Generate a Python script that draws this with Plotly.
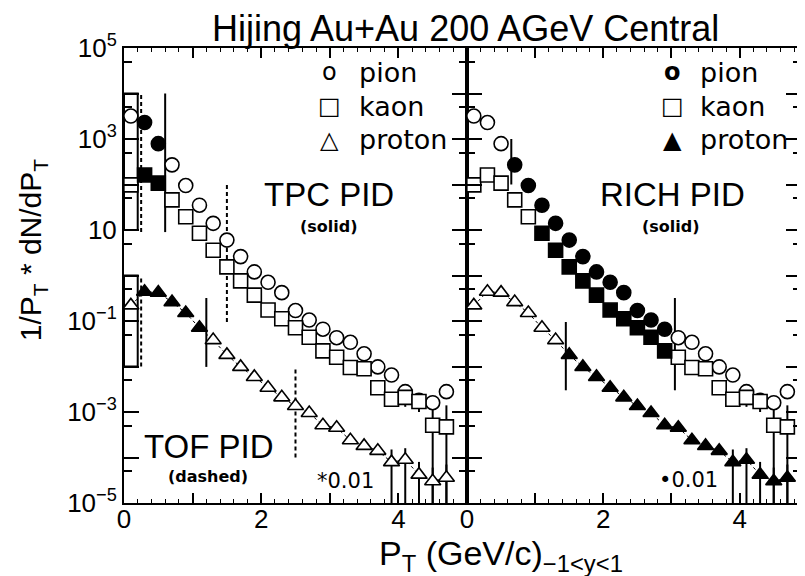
"""
Hijing Au+Au 200 AGeV central: identified particle pT spectra,
TPC/TOF PID coverage (left) and RICH PID coverage (right).
"""
import plotly.graph_objects as go
from plotly.subplots import make_subplots

# ---- data ----
pt = [0.1, 0.3, 0.5, 0.7, 0.9, 1.1, 1.3, 1.5, 1.7, 1.9, 2.1, 2.3,
      2.5, 2.7, 2.9, 3.1, 3.3, 3.5, 3.7, 3.9, 4.1, 4.3, 4.5, 4.7]

pion = [3.2e3, 2.3e3, 7.9e2, 2.7e2, 95, 35, 14, 6.0, 2.6, 1.2, 0.71, 0.42,
        0.17, 0.105, 0.066, 0.043, 0.034, 0.019, 0.0098, 0.0065, 0.0028, 0.0018,
        0.0016, 0.0028]

kaon = [98, 162, 107, 46, 19.5, 8.5, 3.6, 1.55, 0.76, 0.37, 0.174, 0.112,
        0.071, 0.044, 0.022, 0.016, 0.0095, 0.0089, 0.0034, 0.0019, 0.0021, 0.0017,
        5.1e-4, 4.7e-4]

# proton spectrum is scaled by 0.01
proton = [0.22, 0.44, 0.42, 0.26, 0.15, 0.071, 0.038, 0.018, 0.0098, 0.0059, 0.0034, 0.0021,
          0.00135, 9.5e-4, 5.1e-4, 4.5e-4, 2.4e-4, 1.8e-4, 1.4e-4, 7.9e-5, 8.9e-5, 4.2e-5,
          3.0e-5, 3.6e-5]

# statistical error bars at high pT (lower / upper ends)
err_pt = [3.9, 4.1, 4.3, 4.5, 4.7]
kaon_lo = [1.3e-3, 1.3e-3, 1.0e-3, 1e-7, 1e-7]
kaon_hi = [2.6e-3, 2.8e-3, 2.4e-3, 1.5e-3, 1.4e-3]
proton_lo = [1e-7, 1e-7, 1e-7, 1e-7, 1e-7]
proton_hi = [1.5e-4, 1.6e-4, 8e-5, 6e-5, 7e-5]

# pT windows where each detector identifies the particle (filled symbols)
tpc_pik = (0.2, 0.6)
tpc_p = (0.2, 1.2)
rich_pi = (0.6, 3.0)
rich_k = (1.0, 3.0)
rich_p = (1.4, 5.0)

# PID limit markers: (pT, y_low, y_high)
tpc_limits = [(0.6, 9, 1e4), (1.2, 0.0098, 0.32)]
tof_limits = [(0.25, 9, 1e4), (0.25, 0.01, 1.0), (1.5, 0.095, 100), (2.5, 1e-4, 0.0093)]
rich_limits = [(0.65, 100, 1e3), (1.45, 0.003, 0.095), (3.05, 0.003, 0.32)]

# first-bin boxes (pT_lo, pT_hi, y_lo, y_hi)
boxes = [(0.0, 0.2, 10, 1e4), (0.0, 0.2, 0.01, 1.0)]

FONT = "Liberation Sans, Arial, sans-serif"
WIDE = "DejaVu Sans, Verdana, sans-serif"
OFF = 8                      # page body margin
W, H = 805 - OFF, 576 - OFF
L, R, T, B = 116, 2, 40, 73
PW, PH = W - L - R, H - T - B
x_split = (468 - OFF - L) / PW


def px(xpix):
    return (xpix - OFF - L) / PW


def py(ypix):
    return (H - B - (ypix - OFF)) / PH


fig = make_subplots(rows=1, cols=2, shared_yaxes=True, horizontal_spacing=0)


def add_species(col, y, symbol, window):
    inside = [window[0] < x < window[1] for x in pt]
    xin = [x for x, k in zip(pt, inside) if k]
    yin = [v for v, k in zip(y, inside) if k]
    xout = [x for x, k in zip(pt, inside) if not k]
    yout = [v for v, k in zip(y, inside) if not k]
    fig.add_trace(go.Scatter(x=xout, y=yout, mode="markers",
                             marker=dict(symbol=symbol, size=14, color="white",
                                         line=dict(color="black", width=1.6))),
                  row=1, col=col)
    fig.add_trace(go.Scatter(x=xin, y=yin, mode="markers",
                             marker=dict(symbol=symbol, size=14, color="black",
                                         line=dict(color="black", width=1.6))),
                  row=1, col=col)


def add_segments(col, segs, dash):
    xs, ys = [], []
    for x, lo, hi in segs:
        xs += [x, x, None]
        ys += [lo, hi, None]
    fig.add_trace(go.Scatter(x=xs, y=ys, mode="lines",
                             line=dict(color="black", width=2, dash=dash)),
                  row=1, col=col)


for col in (1, 2):
    # error bars
    segs = [(x, lo, hi) for x, lo, hi in zip(err_pt, kaon_lo, kaon_hi)]
    segs += [(x, lo, hi) for x, lo, hi in zip(err_pt, proton_lo, proton_hi)]
    add_segments(col, segs, "solid")
    # dotted guide through protons
    fig.add_trace(go.Scatter(x=pt, y=proton, mode="lines",
                             line=dict(color="black", width=1, dash="dot")),
                  row=1, col=col)

# first-bin boxes and PID limits in the left panel
bx, by = [], []
for x0, x1, y0, y1 in boxes:
    bx += [x0, x1, x1, x0, x0, None]
    by += [y0, y0, y1, y1, y0, None]
fig.add_trace(go.Scatter(x=bx, y=by, mode="lines", line=dict(color="black", width=2)),
              row=1, col=1)
add_segments(1, tpc_limits, "solid")
add_segments(1, tof_limits, "4px,3px")
add_segments(2, rich_limits, "solid")

add_species(1, pion, "circle", tpc_pik)
add_species(1, kaon, "square", tpc_pik)
add_species(1, proton, "triangle-up", tpc_p)
add_species(2, pion, "circle", rich_pi)
add_species(2, kaon, "square", rich_k)
add_species(2, proton, "triangle-up", rich_p)

# ---- axes ----
yticks = [10.0 ** k for k in range(-5, 6)]
ytext = ["10<sup>−5</sup>", "", "10<sup>−3</sup>", "", "10<sup>−1</sup>", "",
         "10", "", "10<sup>3</sup>", "", "10<sup>5</sup>"]
yminor = [5 * 10.0 ** k for k in range(-5, 5)]

common = dict(showline=True, linecolor="black", linewidth=2, mirror="allticks",
              ticks="inside", tickwidth=2, tickcolor="black", showgrid=False,
              zeroline=False, tickfont=dict(family=FONT, size=26, color="black"))

fig.update_xaxes(**common, tickvals=[0, 1, 2, 3, 4], ticktext=["0", "", "2", "", "4"],
                 ticklen=10, ticklabelstandoff=-8,
                 minor=dict(dtick=0.2, ticklen=4, ticks="inside",
                            tickwidth=1, tickcolor="black"))
fig.update_xaxes(range=[0, 5], domain=[0, x_split], row=1, col=1)
fig.update_xaxes(range=[0, 4.9], domain=[x_split, 1], row=1, col=2)

fig.update_yaxes(**common, type="log", range=[-5, 5], tickvals=yticks, ticktext=ytext,
                 ticklen=15, minor=dict(tickvals=yminor, ticklen=8, ticks="inside",
                                        tickwidth=2, tickcolor="black"))
fig.update_yaxes(showticklabels=False, row=1, col=2)

# ---- text ----
ann = []


def text(x, y, s, size, xanchor="center", family=FONT, **kw):
    ann.append(dict(x=px(x), y=py(y), xref="paper", yref="paper", text=s,
                    xanchor=xanchor, yanchor="middle", showarrow=False,
                    font=dict(family=family, size=size, color="black"), **kw))


text(467, 29, "Hijing Au+Au 200 AGeV Central", 36)
text(32, 250, "1/P<sub>T</sub> * dN/dP<sub>T</sub>", 30, textangle=-90)
text(378, 555, "P<sub>T</sub> (GeV/c)<sub>−1&lt;y&lt;1</sub>", 34, xanchor="left")

# legends
for (xm, xt), syms in (((330, 358), ["o", "□", "△"]),
                       ((674, 700), ["<b>o</b>", "<b>□</b>", "▲"])):
    for s, lab, yy in zip(syms, ["pion", "kaon", "proton"], [72, 106, 140]):
        text(xm, yy, s, 24, family=WIDE)
        text(xt, yy, lab, 27, xanchor="left", family=WIDE)

text(330, 195, "TPC PID", 33)
text(330, 226, "<b>(solid)</b>", 16, family=WIDE)
text(674, 195, "RICH PID", 33)
text(673, 226, "<b>(solid)</b>", 16, family=WIDE)
text(209, 446, "TOF PID", 33)
text(208, 476, "<b>(dashed)</b>", 16, family=WIDE)
text(346, 481, "*0.01", 21, family=WIDE)
text(690, 480, "•0.01", 21, family=WIDE)

fig.update_layout(width=W, height=H, margin=dict(l=L, r=R, t=T, b=B),
                  paper_bgcolor="white", plot_bgcolor="white", showlegend=False,
                  annotations=ann)

fig.write_html("out.html")
